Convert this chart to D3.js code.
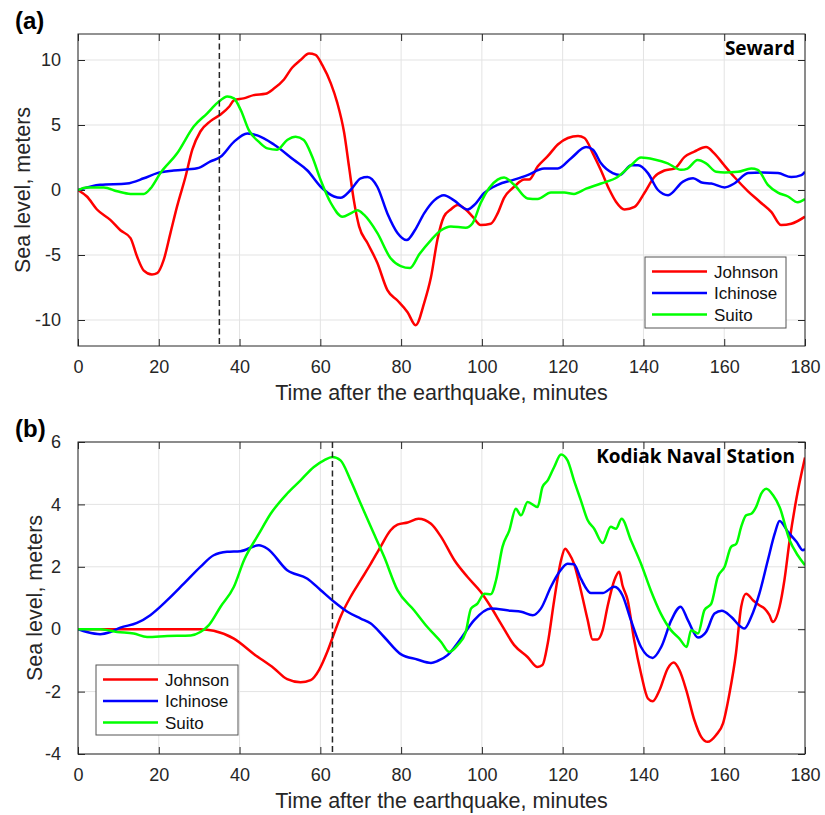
<!DOCTYPE html>
<html>
<head>
<meta charset="utf-8">
<script src="https://cdn.jsdelivr.net/npm/d3@7"></script>
<style>
  body { margin: 0; background: #fff; }
  text { font-family: "Liberation Sans", Arial, Helvetica, sans-serif; fill: #262626; }
</style>
</head>
<body>
<script>
"use strict";

// [minutes, meters]
var sewardJohnson = [[0,0],[2.2,-0.5],[4.7,-1.5],[8,-2.3],[10.5,-3.1],[13,-3.7],[14.6,-5.1],[16.3,-6.2],[18.3,-6.5],[19.6,-6.4],[21.2,-5.4],[22.9,-3.3],[24.5,-1.3],[26.6,1.0],[28.3,3.1],[30.3,4.5],[32.8,5.3],[35.3,5.8],[37.4,6.4],[38.6,6.9],[41,7.05],[43.5,7.3],[46.4,7.4],[48.5,7.8],[51,8.5],[53,9.4],[55.1,10],[57.2,10.5],[58.8,10.4],[60.5,9.6],[62.6,8.2],[64.2,6.7],[65.9,4.4],[67.1,1.8],[68.3,-0.8],[69.6,-2.8],[71.7,-4.1],[74.1,-5.6],[76.6,-7.7],[79.1,-8.5],[81.6,-9.4],[83.6,-10.4],[85.7,-8.7],[87.4,-6.7],[89,-3.8],[90.6,-2.05],[92.3,-1.5],[94,-1.15],[96,-1.5],[97.7,-2.05],[99.7,-2.7],[102.2,-2.6],[103.9,-1.8],[105.5,-0.6],[108,0.25],[110.5,0.8],[111.7,0.8],[113.8,1.8],[116.3,2.6],[118.8,3.5],[121.3,4.0],[123.8,4.15],[125.4,4.0],[127.5,2.8],[129.5,1.5],[131.6,0],[133.2,-0.9],[135.3,-1.5],[137.8,-1.3],[140.2,-0.25],[142.7,1.0],[145.2,1.5],[147.7,1.65],[150.2,2.55],[152.6,2.95],[155.5,3.3],[157.6,2.8],[160,1.9],[162.5,1.0],[165.9,-0.1],[168.8,-0.9],[171.7,-1.7],[174.1,-2.7],[176.6,-2.6],[180,-2.05]];
var sewardIchinose = [[0,0],[5.5,0.4],[12.1,0.5],[16.3,0.9],[19.6,1.3],[23.7,1.5],[29.5,1.67],[32.8,2.2],[35.3,2.55],[38.6,3.7],[41.9,4.35],[44.4,4.2],[48.5,3.5],[53.5,2.3],[56.8,1.5],[60.1,0.25],[63.4,-0.5],[65,-0.6],[67.5,0],[70,0.9],[71.7,1.0],[74.1,0.25],[76.6,-1.8],[79.1,-3.3],[81.4,-3.85],[83.4,-3.1],[85.7,-1.8],[88.2,-0.8],[90.6,-0.4],[93.1,-0.8],[96.4,-1.5],[98.1,-1.15],[100.5,-0.25],[103.9,0.4],[108,0.8],[111.3,1.15],[115.4,1.65],[118.8,1.65],[122.1,2.45],[125.8,3.3],[127.5,3.1],[129.5,2.05],[132.4,1.3],[134.1,1.15],[137,1.9],[138.7,1.9],[141.1,1.3],[143.6,0],[146.1,-0.4],[149.8,0.65],[152.3,0.9],[154.7,0.55],[156.8,0.5],[160.1,0.2],[162.5,0.5],[165.9,1.3],[169.2,1.35],[173.3,1.3],[176.6,1.0],[179.1,1.15],[180,1.4]];
var sewardSuito = [[0,0],[2.2,0.2],[6.4,0.2],[9.7,-0.1],[13,-0.3],[16.3,-0.3],[17.9,0.1],[20.4,1.3],[24.5,2.8],[28.7,4.9],[32,5.9],[34.5,6.7],[37,7.2],[38.6,7.05],[40.3,6.15],[42.3,4.6],[44.8,3.7],[46.9,3.2],[49.3,3.1],[51.8,3.85],[53.9,4.1],[55.9,3.85],[58,2.55],[60.1,0.75],[62.6,-1.0],[65.5,-2.05],[67.5,-1.8],[69.2,-1.55],[70.8,-1.9],[74.1,-3.3],[77.4,-5.25],[79.9,-5.85],[82.2,-6.0],[84.5,-4.95],[87.4,-3.85],[89.9,-3.1],[92.3,-2.8],[96,-2.9],[97.7,-2.55],[99.7,-1.0],[101.8,0.15],[103.9,0.8],[105.5,0.97],[108,0.4],[111.3,-0.65],[113.8,-0.7],[117.1,-0.2],[120.4,-0.2],[122.8,-0.3],[125.8,0.1],[129.5,0.5],[133.6,1.0],[136.9,1.9],[139.4,2.5],[142.7,2.35],[146,2.05],[149.3,1.55],[150.9,1.65],[153.4,2.3],[155.5,2.05],[158,1.4],[160.1,1.35],[163.4,1.4],[166.7,1.65],[168.3,1.55],[170.8,0.4],[173.3,-0.2],[175.8,-0.5],[178.2,-0.95],[180,-0.7]];

var kodiakJohnson = [[0,0],[30.3,0],[33.6,-0.05],[38.6,-0.3],[43.6,-0.8],[48.5,-1.25],[51.8,-1.6],[55.1,-1.7],[57.6,-1.63],[59.7,-1.3],[61.7,-0.73],[63.4,-0.14],[65,0.4],[67.5,1.04],[70,1.57],[72.5,2.1],[74.9,2.64],[77.4,3.17],[79.1,3.35],[81.6,3.42],[84.3,3.54],[87.4,3.38],[89.9,2.96],[93.2,2.21],[96.4,1.68],[99.7,1.2],[102.2,0.72],[104.7,0.18],[108,-0.51],[111.3,-0.89],[113.8,-1.21],[115,-1.15],[116.3,-0.46],[117.9,0.93],[119.6,2.21],[120.6,2.58],[121.6,2.42],[122.8,2.1],[124.5,1.25],[126.2,0.29],[127.4,-0.33],[128.6,-0.33],[129.9,-0.03],[131.1,0.72],[132.8,1.57],[134,1.84],[134.8,1.41],[136.1,0.93],[137.7,-0.35],[139.4,-1.42],[141.1,-2.22],[142.3,-2.31],[144,-1.95],[146,-1.26],[147.5,-1.07],[148.9,-1.31],[150.6,-1.95],[152.6,-2.91],[154.3,-3.45],[155.9,-3.61],[158,-3.39],[159.7,-3.02],[161.3,-2.06],[162.9,-0.78],[164.2,0.72],[165.4,1.14],[167.1,0.93],[168.7,0.77],[170,0.66],[171.2,0.45],[172,0.23],[173.7,0.72],[174.9,1.57],[176.2,2.85],[177.8,4.13],[180,5.5]];
var kodiakIchinose = [[0,0],[2.2,-0.09],[5.5,-0.16],[8,-0.09],[10.5,0.05],[14.6,0.2],[17.9,0.45],[22.1,0.93],[26.2,1.46],[30.3,2.0],[33.6,2.37],[36.9,2.48],[40.2,2.5],[44.8,2.69],[46.9,2.58],[51.8,1.89],[56.8,1.62],[60.1,1.25],[63.4,0.88],[66.7,0.56],[70,0.34],[72.5,0.18],[75.8,-0.25],[79.9,-0.8],[84,-0.97],[87.4,-1.08],[89,-1.02],[91.5,-0.83],[94.8,-0.3],[98.1,0.29],[102.2,0.66],[107.2,0.59],[109.7,0.56],[112.6,0.45],[114.6,0.66],[117.1,1.36],[119.2,1.84],[121.2,2.1],[122.8,2.08],[124.5,1.62],[127,1.16],[129.9,1.16],[132.8,1.36],[134.8,1.09],[136.9,0.29],[139.4,-0.57],[142.3,-0.92],[144.4,-0.57],[146.9,0.29],[149.2,0.72],[151,0.29],[153.5,-0.27],[155.5,-0.09],[157.6,0.5],[159.4,0.59],[161.7,0.4],[164.2,0.07],[165,0.02],[166.7,0.4],[168.7,1.14],[170.8,2.21],[172.5,3.06],[173.7,3.47],[175.8,3.12],[177.9,2.8],[179.5,2.53],[180,2.58]];
var kodiakSuito = [[0,0],[5.5,0],[9.7,-0.09],[13.8,-0.14],[17.1,-0.25],[22.1,-0.22],[27.9,-0.2],[30.3,-0.09],[32.4,0.13],[35.3,0.72],[38.6,1.36],[41.1,2.21],[44.8,3.06],[47.7,3.7],[51.8,4.35],[55.1,4.77],[58.4,5.2],[60.9,5.41],[63,5.52],[65,5.41],[67.5,4.77],[70,4.02],[72.5,3.28],[75.8,2.32],[79.1,1.25],[83.2,0.61],[86.5,0.07],[89.9,-0.41],[91.9,-0.73],[94,-0.51],[96,-0.09],[97.3,0.66],[98.9,0.82],[100.6,1.14],[102.2,1.12],[103.5,1.57],[105.1,2.64],[106.8,3.17],[108.4,3.86],[109.7,3.65],[111.3,4.08],[113.8,3.92],[115,4.56],[116.3,4.77],[117.9,5.2],[119.6,5.6],[121.2,5.41],[122.8,4.77],[124.5,4.13],[126.2,3.49],[127.8,3.22],[129.9,2.76],[131.9,3.28],[133.2,3.22],[134.6,3.54],[136.9,2.85],[139.4,2.1],[141.8,1.25],[144.3,0.5],[146.8,-0.03],[148.9,-0.3],[150.7,-0.57],[151.8,-0.03],[153.5,-0.14],[155.1,0.61],[156.8,0.82],[158.4,1.68],[160.1,2.0],[161.7,2.64],[163,2.74],[164.2,3.28],[165.4,3.65],[166.7,3.7],[167.9,3.92],[169.2,4.35],[170.4,4.5],[172.1,4.29],[173.7,3.92],[176.2,2.85],[178.2,2.37],[180,2.05]];

var seriesNames = ["Johnson", "Ichinose", "Suito"];
var seriesColors = ["#ff0000", "#0000ff", "#00ff00"];
var xTicks = [0, 20, 40, 60, 80, 100, 120, 140, 160, 180];
var sewardYTicks = [-10, -5, 0, 5, 10];
var kodiakYTicks = [-4, -2, 0, 2, 4, 6];
var sewardArrival = 35;
var kodiakArrival = 63;

var width = 825, height = 815;
var left = 78, right = 805;

var svg = d3.select("body").append("svg")
  .attr("width", width)
  .attr("height", height);

var panels = [
  { id: "a", tag: "(a)", station: "Seward", top: 34, bottom: 346, ydom: [-12, 12], yticks: sewardYTicks,
    series: [sewardJohnson, sewardIchinose, sewardSuito], arrival: sewardArrival,
    legend: { x: 645, y: 257, w: 141, h: 71 }, ylabelX: 22 },
  { id: "b", tag: "(b)", station: "Kodiak Naval Station", top: 442, bottom: 754, ydom: [-4, 6], yticks: kodiakYTicks,
    series: [kodiakJohnson, kodiakIchinose, kodiakSuito], arrival: kodiakArrival,
    legend: { x: 96, y: 665, w: 142, h: 70 }, ylabelX: 34 }
];

panels.forEach(function(p) {
  var x = d3.scaleLinear().domain([0, 180]).range([left, right]);
  var y = d3.scaleLinear().domain(p.ydom).range([p.bottom, p.top]);
  var g = svg.append("g");

  g.append("clipPath").attr("id", "clip-" + p.id)
    .append("rect")
    .attr("x", left).attr("y", p.top)
    .attr("width", right - left).attr("height", p.bottom - p.top);

  // grid
  g.append("g").selectAll("line").data(xTicks).enter().append("line")
    .attr("x1", function(d) { return x(d); }).attr("x2", function(d) { return x(d); })
    .attr("y1", p.top).attr("y2", p.bottom)
    .attr("stroke", "#e3e3e3").attr("stroke-width", 1);
  g.append("g").selectAll("line").data(p.yticks).enter().append("line")
    .attr("y1", function(d) { return y(d); }).attr("y2", function(d) { return y(d); })
    .attr("x1", left).attr("x2", right)
    .attr("stroke", "#e3e3e3").attr("stroke-width", 1);

  // axes, ticks pointing inward on all four sides
  var tl = 7;
  var xb = g.append("g").attr("transform", "translate(0," + p.bottom + ")")
    .call(d3.axisBottom(x).tickValues(xTicks).tickSizeInner(-tl).tickSizeOuter(0).tickPadding(14));
  var xt = g.append("g").attr("transform", "translate(0," + p.top + ")")
    .call(d3.axisTop(x).tickValues(xTicks).tickSizeInner(-tl).tickSizeOuter(0).tickFormat(""));
  var yl = g.append("g").attr("transform", "translate(" + left + ",0)")
    .call(d3.axisLeft(y).tickValues(p.yticks).tickSizeInner(-tl).tickSizeOuter(0).tickPadding(17)
      .tickFormat(function(d) { return d < 0 ? "-" + Math.abs(d) : d; }));
  var yr = g.append("g").attr("transform", "translate(" + right + ",0)")
    .call(d3.axisRight(y).tickValues(p.yticks).tickSizeInner(-tl).tickSizeOuter(0).tickFormat(""));
  [xb, xt, yl, yr].forEach(function(a) {
    a.select(".domain").remove();
    a.selectAll("line").attr("stroke", "#262626");
    a.selectAll("text").attr("font-size", 18)
      .attr("font-family", "'Liberation Sans', Arial, sans-serif").attr("fill", "#262626");
  });

  // curves
  var line = d3.line()
    .x(function(d) { return x(d[0]); })
    .y(function(d) { return y(d[1]); })
    .curve(d3.curveMonotoneX);
  g.append("g").attr("clip-path", "url(#clip-" + p.id + ")")
    .selectAll("path").data(p.series).enter().append("path")
    .attr("d", line)
    .attr("fill", "none")
    .attr("stroke", function(d, i) { return seriesColors[i]; })
    .attr("stroke-width", 2.5)
    .attr("stroke-linejoin", "round");

  // arrival time marker
  g.append("line")
    .attr("x1", x(p.arrival)).attr("x2", x(p.arrival))
    .attr("y1", p.top).attr("y2", p.bottom)
    .attr("stroke", "#262626").attr("stroke-width", 1.5)
    .attr("stroke-dasharray", "6,3.5");

  // box
  g.append("rect")
    .attr("x", left).attr("y", p.top)
    .attr("width", right - left).attr("height", p.bottom - p.top)
    .attr("fill", "none").attr("stroke", "#262626").attr("stroke-width", 1);

  // station name
  g.append("text")
    .attr("x", right - 10).attr("y", p.top + 21)
    .attr("text-anchor", "end")
    .style("font-family", "'Open Sans', sans-serif")
    .style("font-weight", "bold").style("font-size", "19px")
    .style("fill", "#000")
    .text(p.station);

  // panel tag
  g.append("text")
    .attr("x", 15).attr("y", p.top - 5)
    .style("font-weight", "bold").style("font-size", "24px")
    .style("fill", "#000")
    .text(p.tag);

  // axis labels
  g.append("text")
    .attr("x", (left + right) / 2).attr("y", p.bottom + 54)
    .attr("text-anchor", "middle")
    .style("font-size", "21.5px")
    .text("Time after the earthquake, minutes");
  g.append("text")
    .attr("transform", "translate(" + (p.ylabelX + 8) + "," + ((p.top + p.bottom) / 2) + ") rotate(-90)")
    .attr("text-anchor", "middle")
    .style("font-size", "21.5px")
    .text("Sea level, meters");

  // legend
  var lg = g.append("g").attr("transform", "translate(" + p.legend.x + "," + p.legend.y + ")");
  lg.append("rect")
    .attr("width", p.legend.w).attr("height", p.legend.h)
    .attr("fill", "#fff").attr("stroke", "#555").attr("stroke-width", 1);
  var rows = lg.selectAll("g.row").data(seriesNames).enter().append("g")
    .attr("class", "row")
    .attr("transform", function(d, i) { return "translate(0," + (14.5 + i * 21.5) + ")"; });
  rows.append("line")
    .attr("x1", 7).attr("x2", 62)
    .attr("stroke", function(d, i) { return seriesColors[i]; })
    .attr("stroke-width", 2.5);
  rows.append("text")
    .attr("x", 69).attr("y", 6)
    .style("font-size", "17px")
    .style("fill", "#111")
    .text(function(d) { return d; });
});
</script>
</body>
</html>
